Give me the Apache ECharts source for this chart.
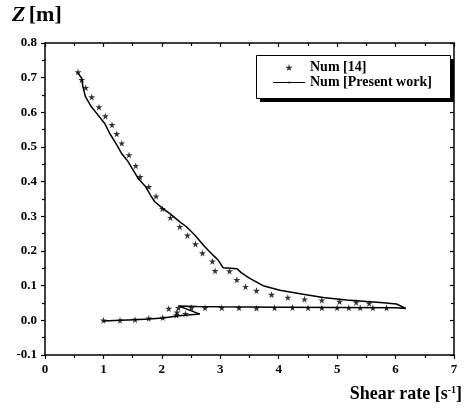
<!DOCTYPE html>
<html>
<head>
<meta charset="utf-8">
<script src="https://cdn.jsdelivr.net/npm/echarts@6/dist/echarts.min.js"></script>
<style>
  html, body { margin: 0; padding: 0; background: #fff; }
  #chart { width: 465px; height: 412px; }
</style>
</head>
<body>
<div id="chart"></div>
<script>
// Reference numerical solution: shear rate [1/s] and height Z [m]
const refShear = [0.565, 0.628, 0.697, 0.800, 0.924, 1.033, 1.147, 1.228, 1.313, 1.438, 1.553, 1.627, 1.776, 1.901,
  2.010, 2.147, 2.307, 2.438, 2.575, 2.695, 2.866, 2.911, 3.158, 3.283, 3.432, 3.620, 3.877, 4.156, 4.442, 4.738,
  5.041, 5.326, 5.548,
  5.846, 5.611, 5.394, 5.200, 5.000, 4.738, 4.503, 4.236, 3.930, 3.620, 3.320, 3.026, 2.740, 2.507, 2.404, 2.284,
  2.260, 2.118, 2.250, 2.015, 1.776, 1.541, 1.284, 1.000];
const refZ = [0.716, 0.694, 0.671, 0.644, 0.615, 0.589, 0.564, 0.538, 0.511, 0.477, 0.446, 0.414, 0.385, 0.358,
  0.322, 0.296, 0.270, 0.245, 0.220, 0.194, 0.170, 0.143, 0.142, 0.117, 0.097, 0.086, 0.074, 0.066, 0.061, 0.058,
  0.054, 0.052, 0.049,
  0.036, 0.036, 0.036, 0.036, 0.036, 0.036, 0.036, 0.037, 0.036, 0.035, 0.036, 0.036, 0.036, 0.036, 0.019, 0.036,
  0.023, 0.034, 0.015, 0.008, 0.006, 0.002, 0.000, 0.000];

// Present numerical solution (traced as a connected profile)
const presShear = [0.554, 0.628, 0.651, 0.692, 0.794, 0.908, 1.022, 1.108, 1.211, 1.308, 1.421, 1.507, 1.592, 1.724,
  1.810, 1.878, 1.993, 2.164, 2.307, 2.421, 2.563, 2.735, 2.877, 2.962, 3.048, 3.288, 3.363, 3.505, 3.733, 4.019,
  4.418, 4.760, 5.161, 5.503, 5.788, 6.017, 6.176,
  6.000, 5.000, 4.000, 3.000, 2.600, 2.295, 2.649, 2.295, 2.020, 1.776, 1.541, 1.284, 1.000];
const presZ = [0.716, 0.698, 0.672, 0.645, 0.616, 0.592, 0.568, 0.539, 0.511, 0.482, 0.458, 0.434, 0.410, 0.385,
  0.360, 0.342, 0.326, 0.304, 0.284, 0.270, 0.246, 0.212, 0.188, 0.174, 0.152, 0.149, 0.137, 0.121, 0.100, 0.087,
  0.075, 0.066, 0.059, 0.054, 0.051, 0.047, 0.034,
  0.036, 0.037, 0.038, 0.039, 0.040, 0.041, 0.018, 0.013, 0.007, 0.004, 0.002, 0.000, -0.002];

const xTicks = { min: 0, max: 7, step: 1 };
const yTicks = { min: -0.1, max: 0.8, step: 0.1 };

const STAR = 'path://M50,0 L61,35 L98,35 L68,57 L79,91 L50,70 L21,91 L32,57 L2,35 L39,35 Z';
// thin horizontal stroke with a small centre tick, used as the line legend key
const LINE_KEY = 'path://M0,3.5 L100,3.5 L100,6.5 L0,6.5 Z M49.3,0 L50.7,0 L50.7,10 L49.3,10 Z';
const FONT = '"Liberation Serif", "Times New Roman", serif';

const chart = echarts.init(document.getElementById('chart'), null, { renderer: 'canvas' });

const refPts = refShear.map((x, i) => [x, refZ[i]]);
const presPts = presShear.map((x, i) => [x, presZ[i]]);

const axisLine = { show: true, onZero: false, lineStyle: { color: '#000', width: 1.5 } };
const tickStyle = { color: '#000', width: 1.2 };

chart.setOption({
  animation: false,
  backgroundColor: '#fff',
  grid: { left: 45, right: 11, top: 43, bottom: 57, containLabel: false },
  xAxis: [
    {
      type: 'value', min: xTicks.min, max: xTicks.max, interval: xTicks.step,
      axisLine: axisLine,
      axisTick: { show: true, inside: false, length: 4, lineStyle: tickStyle },
      minorTick: { show: true, splitNumber: 2, length: 3, lineStyle: tickStyle },
      splitLine: { show: false },
      axisLabel: { color: '#000', fontFamily: FONT, fontWeight: 'bold', fontSize: 13, margin: 8 }
    },
    {
      type: 'value', position: 'top', min: xTicks.min, max: xTicks.max, interval: xTicks.step,
      axisLine: axisLine,
      axisTick: { show: true, inside: true, length: 4, lineStyle: tickStyle },
      minorTick: { show: true, splitNumber: 2, length: 3, lineStyle: tickStyle },
      splitLine: { show: false },
      axisLabel: { show: false }
    }
  ],
  yAxis: [
    {
      type: 'value', min: yTicks.min, max: yTicks.max, interval: yTicks.step,
      axisLine: axisLine,
      axisTick: { show: true, inside: false, length: 4, lineStyle: tickStyle },
      minorTick: { show: true, splitNumber: 2, length: 3, lineStyle: tickStyle },
      splitLine: { show: false },
      axisLabel: {
        color: '#000', fontFamily: FONT, fontWeight: 'bold', fontSize: 13, margin: 8,
        formatter: v => (Math.abs(v) < 1e-9 ? 0 : v).toFixed(1)
      }
    },
    {
      type: 'value', position: 'right', min: yTicks.min, max: yTicks.max, interval: yTicks.step,
      axisLine: axisLine,
      axisTick: { show: true, inside: true, length: 4, lineStyle: tickStyle },
      minorTick: { show: true, splitNumber: 2, length: 3, lineStyle: tickStyle },
      splitLine: { show: false },
      axisLabel: { show: false }
    }
  ],
  legend: {
    orient: 'vertical',
    left: 273, top: 60, padding: 0,
    itemWidth: 32, itemHeight: 7, itemGap: 0,
    symbolKeepAspect: true,
    textStyle: { color: '#000', fontFamily: FONT, fontWeight: 'bold', fontSize: 14, lineHeight: 15 },
    data: [
      { name: 'Num [14]', icon: STAR },
      { name: 'Num [Present work]', icon: LINE_KEY }
    ],
    z: 10
  },
  graphic: [
    // legend frame with hard drop shadow
    { type: 'rect', left: 260, top: 59, z: 1, silent: true,
      shape: { width: 194, height: 43 }, style: { fill: '#000' } },
    { type: 'rect', left: 256, top: 55, z: 2, silent: true,
      shape: { width: 194, height: 43 }, style: { fill: '#fff', stroke: '#000', lineWidth: 1 } },
    // vertical axis title
    { type: 'text', left: 12, top: 4, z: 5,
      style: {
        text: '{z|Z} {u|[m]}',
        rich: {
          z: { fontFamily: FONT, fontStyle: 'italic', fontWeight: 'bold', fontSize: 22, fill: '#000' },
          u: { fontFamily: FONT, fontWeight: 'bold', fontSize: 22, fill: '#000' }
        }
      } },
    // horizontal axis title
    { type: 'text', right: 3, top: 385, z: 5,
      style: {
        text: '{a|Shear rate [s}{s|-1}{a|]}',
        rich: {
          a: { fontFamily: FONT, fontWeight: 'bold', fontSize: 18, fill: '#000', verticalAlign: 'bottom' },
          s: { fontFamily: FONT, fontWeight: 'bold', fontSize: 10, fill: '#000', verticalAlign: 'top', padding: [0, 0, 8, 0] }
        }
      } }
  ],
  series: [
    {
      name: 'Num [14]', type: 'scatter', xAxisIndex: 0, yAxisIndex: 0,
      data: refPts, symbol: STAR, symbolSize: 7,
      itemStyle: { color: '#000' }, z: 4
    },
    {
      name: 'Num [Present work]', type: 'line', xAxisIndex: 0, yAxisIndex: 0,
      data: presPts, symbol: 'none', smooth: false,
      lineStyle: { color: '#000', width: 1.5 }, itemStyle: { color: '#000' }, z: 3
    }
  ]
});
</script>
</body>
</html>
